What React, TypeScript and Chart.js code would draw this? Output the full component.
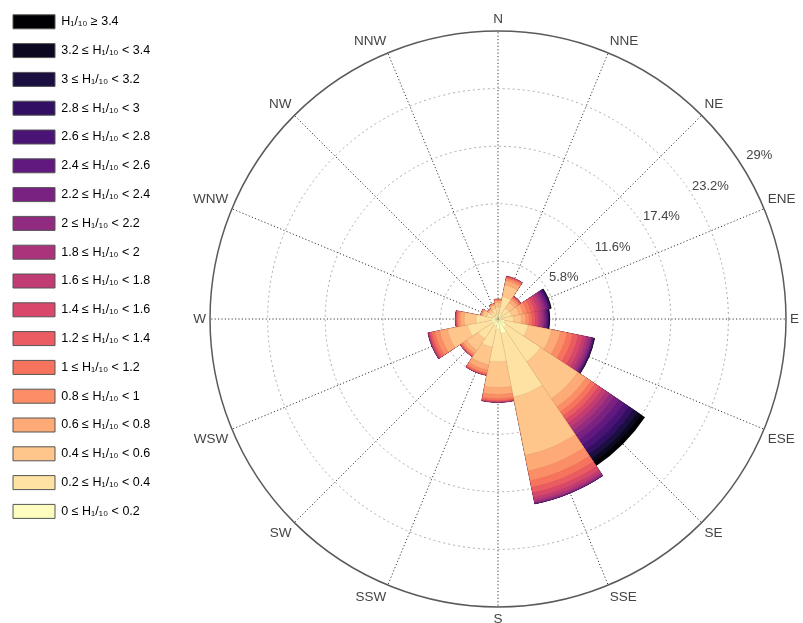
import React, { useEffect, useRef } from 'react';
import { Chart, registerables } from 'chart.js';

Chart.register(...registerables);

// Direction sectors (clockwise from North)
const directions = ['N', 'NNE', 'NE', 'ENE', 'E', 'ESE', 'SE', 'SSE', 'S', 'SSW', 'SW', 'WSW', 'W', 'WNW', 'NW', 'NNW'];

// Frequency (%) of each H1/10 class per direction
const h00_02 = [0.45, 0.60, 0.40, 0.40, 0.40, 0.70, 1.00, 1.50, 1.00, 0.70, 0.60, 0.70, 0.60, 0.45, 0.35, 0.40];
const h02_04 = [0.75, 1.70, 0.90, 0.99, 1.14, 2.40, 4.15, 6.50, 3.30, 2.20, 1.80, 2.40, 1.60, 0.70, 0.50, 0.65];
const h04_06 = [0.45, 1.20, 0.70, 0.75, 0.80, 2.40, 4.50, 6.00, 2.60, 1.80, 1.40, 2.10, 1.20, 0.40, 0.30, 0.35];
const h06_08 = [0.20, 0.45, 0.35, 0.45, 0.45, 0.90, 1.00, 1.60, 0.70, 0.55, 0.40, 0.80, 0.40, 0.15, 0.10, 0.13];
const h08_10 = [0.10, 0.22, 0.20, 0.40, 0.35, 0.70, 0.60, 1.00, 0.40, 0.30, 0.20, 0.50, 0.22, 0.07, 0.04, 0.05];
const h10_12 = [0.03, 0.12, 0.12, 0.40, 0.30, 0.60, 0.50, 0.70, 0.20, 0.15, 0.10, 0.30, 0.12, 0.03, 0.01, 0.02];
const h12_14 = [0.02, 0.06, 0.06, 0.38, 0.30, 0.55, 0.45, 0.55, 0.10, 0.06, 0.06, 0.18, 0.08, 0, 0, 0];
const h14_16 = [0, 0.03, 0.04, 0.33, 0.28, 0.45, 0.45, 0.45, 0.05, 0.03, 0.03, 0.10, 0.04, 0, 0, 0];
const h16_18 = [0, 0.02, 0.02, 0.30, 0.25, 0.35, 0.45, 0.30, 0.03, 0.01, 0.01, 0.06, 0.02, 0, 0, 0];
const h18_20 = [0, 0, 0.01, 0.25, 0.22, 0.28, 0.45, 0.20, 0.02, 0, 0, 0.03, 0.02, 0, 0, 0];
const h20_22 = [0, 0, 0, 0.22, 0.20, 0.22, 0.50, 0.10, 0, 0, 0, 0.02, 0, 0, 0, 0];
const h22_24 = [0, 0, 0, 0.18, 0.15, 0.13, 0.60, 0.05, 0, 0, 0, 0.01, 0, 0, 0, 0];
const h24_26 = [0, 0, 0, 0.14, 0.12, 0.09, 0.60, 0.03, 0, 0, 0, 0, 0, 0, 0, 0];
const h26_28 = [0, 0, 0, 0.10, 0.10, 0.07, 0.60, 0.01, 0, 0, 0, 0, 0, 0, 0, 0];
const h28_30 = [0, 0, 0, 0.08, 0.07, 0.04, 0.55, 0, 0, 0, 0, 0, 0, 0, 0, 0];
const h30_32 = [0, 0, 0, 0.05, 0.05, 0.03, 0.50, 0, 0, 0, 0, 0, 0, 0, 0, 0];
const h32_34 = [0, 0, 0, 0.03, 0.03, 0.02, 0.40, 0, 0, 0, 0, 0, 0, 0, 0, 0];
const h34_up = [0, 0, 0, 0.05, 0.04, 0.02, 0.50, 0, 0, 0, 0, 0, 0, 0, 0, 0];

const binValues = [h00_02, h02_04, h04_06, h06_08, h08_10, h10_12, h12_14, h14_16, h16_18,
  h18_20, h20_22, h22_24, h24_26, h26_28, h28_30, h30_32, h32_34, h34_up];

const binLabels = [
  '0 ≤ H₁/₁₀ < 0.2', '0.2 ≤ H₁/₁₀ < 0.4', '0.4 ≤ H₁/₁₀ < 0.6', '0.6 ≤ H₁/₁₀ < 0.8',
  '0.8 ≤ H₁/₁₀ < 1', '1 ≤ H₁/₁₀ < 1.2', '1.2 ≤ H₁/₁₀ < 1.4', '1.4 ≤ H₁/₁₀ < 1.6',
  '1.6 ≤ H₁/₁₀ < 1.8', '1.8 ≤ H₁/₁₀ < 2', '2 ≤ H₁/₁₀ < 2.2', '2.2 ≤ H₁/₁₀ < 2.4',
  '2.4 ≤ H₁/₁₀ < 2.6', '2.6 ≤ H₁/₁₀ < 2.8', '2.8 ≤ H₁/₁₀ < 3', '3 ≤ H₁/₁₀ < 3.2',
  '3.2 ≤ H₁/₁₀ < 3.4', 'H₁/₁₀ ≥ 3.4',
];

const binColors = ['#fcfdbf', '#fde2a4', '#fec68b', '#feaa76', '#fc8e67', '#f7735d', '#ea5b62', '#d9476a',
  '#c23c74', '#ab337b', '#912b80', '#792281', '#61197f', '#4a1376', '#320f62', '#1b0e40', '#0c0822', '#000004'];

const radialMax = 29;
const tickStep = 5.8;
const tickLabelBearing = 58; // degrees clockwise from North

const FONT = '"Liberation Sans", Arial, Helvetica, sans-serif';

export default function App() {
  const canvasRef = useRef<HTMLCanvasElement>(null);

  useEffect(() => {
    const canvas = canvasRef.current;
    if (!canvas) return;

    // legend geometry
    const legendPad = 14.8;
    const boxW = 42;
    const boxH = 14;
    const legendFont = 12.5;
    const padLeft = -1.8;
    const mctx = document.createElement('canvas').getContext('2d')!;
    mctx.font = `${legendFont}px ${FONT}`;
    const maxTextW = Math.max(...binLabels.map((t) => mctx.measureText(t).width));
    const legendW = legendPad + boxW + legendFont / 2 + maxTextW + 10;
    const spacer = 191 - padLeft - legendW;

    // cumulative (stacked) radii
    const cum: number[][] = [];
    binValues.forEach((vals, k) => {
      cum.push(vals.map((v, i) => (k > 0 ? cum[k - 1][i] : 0) + v));
    });
    const n = directions.length;
    const sector = 360 / n;
    const datasets = cum.map((vals, k) => ({
      label: binLabels[k],
      data: [...vals, vals[0]],
      backgroundColor: binColors[k],
      borderColor: 'rgba(90,50,40,0.16)',
      borderWidth: 0.5,
      angle: (c: any) => (c.dataIndex === 0 || c.dataIndex === n ? sector / 2 : sector),
    }));

    const tickLabelPlugin = {
      id: 'tickLabels',
      afterDraw(chart: any) {
        const s = chart.scales.r;
        const ctx = chart.ctx;
        ctx.save();
        ctx.font = `13px ${FONT}`;
        ctx.fillStyle = '#444';
        ctx.textAlign = 'center';
        ctx.textBaseline = 'middle';
        const a = (tickLabelBearing * Math.PI) / 180;
        s.ticks.forEach((t: any) => {
          if (t.value <= 0) return;
          const d = s.getDistanceFromCenterForValue(t.value) + 20;
          ctx.fillText(t.label, s.xCenter + d * Math.sin(a), s.yCenter - d * Math.cos(a));
        });
        ctx.restore();
      },
    };

    const chart = new Chart(canvas, {
      type: 'polarArea',
      data: { labels: directions, datasets: datasets as any },
      options: {
        responsive: false,
        devicePixelRatio: 1,
        animation: false,
        events: [],
        layout: { padding: { left: padLeft, top: 0, right: 2, bottom: 0 } },
        scales: {
          r: {
            type: 'radialLinear',
            min: 0,
            max: radialMax,
            startAngle: 0,
            z: 1,
            ticks: {
              display: false,
              stepSize: tickStep,
              callback: (v: any) => `${+Number(v).toFixed(1)}%`,
            },
            grid: {
              circular: true,
              color: (c: any) => (c.tick && c.tick.value >= radialMax - 0.01 ? '#5a5a5a' : '#aaaaaa'),
              lineWidth: (c: any) => (c.tick && c.tick.value >= radialMax - 0.01 ? 1.5 : 1),
            },
            border: {
              dash: (c: any) => (c.tick && c.tick.value >= radialMax - 0.01 ? [] : [2, 3]),
            },
            angleLines: {
              display: true,
              color: '#3a3a3a',
              lineWidth: 1,
              borderDash: [1.2, 2.2],
            },
            pointLabels: {
              display: true,
              padding: 4,
              color: '#444',
              font: { family: FONT, size: 13.5 },
            },
          } as any,
        },
        plugins: {
          legend: {
            display: true,
            position: 'left',
            align: 'start',
            onClick: () => {},
            labels: {
              boxWidth: boxW,
              boxHeight: boxH,
              padding: legendPad,
              color: '#555',
              font: { family: FONT, size: legendFont },
              generateLabels: () =>
                binLabels
                  .map((t, k) => ({
                    text: t,
                    fillStyle: binColors[k],
                    strokeStyle: '#555',
                    lineWidth: 1,
                    hidden: false,
                    datasetIndex: k,
                  }))
                  .reverse(),
            },
          },
          title: {
            display: true,
            text: '',
            position: 'left',
            weight: 500,
            font: { size: 1, lineHeight: 1 },
            padding: { top: spacer - 1, bottom: 0 },
          } as any,
          tooltip: { enabled: false },
        },
      } as any,
      plugins: [tickLabelPlugin],
    });

    return () => chart.destroy();
  }, []);

  return (
    <div
      style={{
        position: 'fixed',
        left: 0,
        top: 0,
        width: 803,
        height: 623,
        overflow: 'hidden',
        background: '#fff',
      }}
    >
      <canvas ref={canvasRef} width={803} height={639} style={{ display: 'block' }} />
    </div>
  );
}
